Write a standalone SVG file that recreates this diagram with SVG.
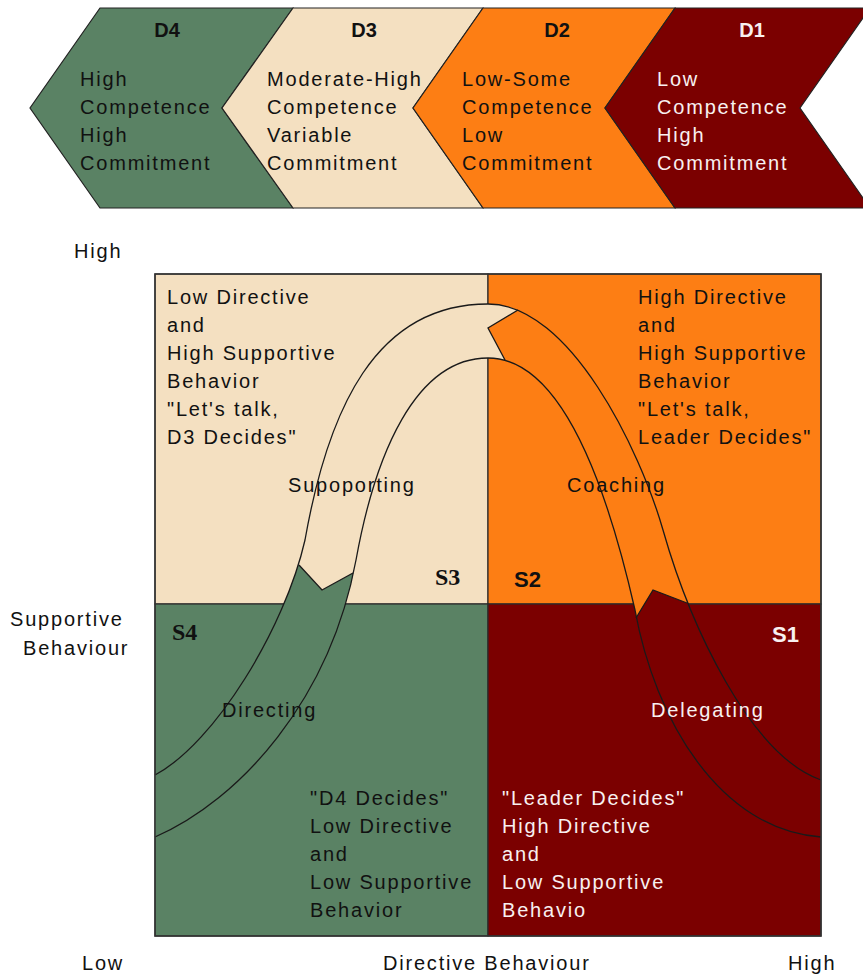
<svg xmlns="http://www.w3.org/2000/svg" width="863" height="975" viewBox="0 0 863 975">
<style>
.t{font-family:"Liberation Sans",Arial,sans-serif;font-size:20px;letter-spacing:1.8px;fill:#111}
.w{fill:#f8f0f0}
.hd{font-family:"Liberation Sans",Arial,sans-serif;font-weight:bold;font-size:20px;text-anchor:middle;fill:#111}
.sl{font-family:"Liberation Serif","Times New Roman",serif;font-weight:bold;font-size:24px;fill:#111}
.ss{font-family:"Liberation Sans",Arial,sans-serif;font-weight:bold;font-size:22px}
.ch{stroke:#222;stroke-width:1.2}
.q{stroke:#2a2a2a;stroke-width:1.2}
.ln{fill:none;stroke:#1a1a1a;stroke-width:1.3}
.green{fill:#5a8264}
.beige{fill:#f4e0c1}
.orange{fill:#fd7e14}
.maroon{fill:#7b0000}
</style>
<defs>
<path id="band" d="M155,775 C215,743 285,628 305,540 C328,410 375,304 488,304 C570,304 640,450 663,530 C690,625 750,755 821,780 L821,837 C720,830 655,720 635,610 C610,500 565,358 488,358 C415,358 375,455 356,560 C330,700 240,800 155,837 Z"/>
<clipPath id="cGreen"><polygon points="0,565 299,565 322,590 353,573 460,573 460,975 0,975"/></clipPath>
<clipPath id="cBeige"><polygon points="0,0 518,0 518,310 488,328 505,360 505,573 353,573 322,590 299,565 0,565"/></clipPath>
<clipPath id="cOrange"><polygon points="518,0 863,0 863,603 687,603 653,590 636,618 505,618 505,360 488,328 518,310"/></clipPath>
<clipPath id="cMaroon"><polygon points="653,590 687,603 863,603 863,975 600,975 600,618 636,618"/></clipPath>
</defs>
<rect width="863" height="975" fill="#ffffff"/>

<g id="d4">
<polygon class="ch green" points="100,8 293,8 222,108 293,208 100,208 30,108"/>
<text class="hd" x="167" y="37">D4</text>
<text class="t" x="80" y="86"><tspan x="80">High</tspan><tspan x="80" dy="28">Competence</tspan><tspan x="80" dy="28">High</tspan><tspan x="80" dy="28">Commitment</tspan></text>
</g>
<g id="d3">
<polygon class="ch beige" points="293,8 483,8 413,108 483,208 293,208 222,108"/>
<text class="hd" x="364" y="37">D3</text>
<text class="t" x="267" y="86"><tspan x="267">Moderate-High</tspan><tspan x="267" dy="28">Competence</tspan><tspan x="267" dy="28">Variable</tspan><tspan x="267" dy="28">Commitment</tspan></text>
</g>
<g id="d2">
<polygon class="ch orange" points="483,8 675,8 605,108 675,208 483,208 413,108"/>
<text class="hd" x="557" y="37">D2</text>
<text class="t" x="462" y="86"><tspan x="462">Low-Some</tspan><tspan x="462" dy="28">Competence</tspan><tspan x="462" dy="28">Low</tspan><tspan x="462" dy="28">Commitment</tspan></text>
</g>
<g id="d1">
<polygon class="ch maroon" points="675,8 870,8 800,108 870,208 675,208 605,108"/>
<text class="hd" x="752" y="37" style="fill:#f8f0f0">D1</text>
<text class="t w" x="657" y="86"><tspan x="657">Low</tspan><tspan x="657" dy="28">Competence</tspan><tspan x="657" dy="28">High</tspan><tspan x="657" dy="28">Commitment</tspan></text>
</g>

<g id="s3">
<rect class="q beige" x="155" y="274" width="333" height="330"/>
</g>
<g id="s2">
<rect class="q orange" x="488" y="274" width="333" height="330"/>
</g>
<g id="s4">
<rect class="q green" x="155" y="604" width="333" height="332"/>
</g>
<g id="s1">
<rect class="q maroon" x="488" y="604" width="333" height="332"/>
</g>

<g id="connectors">
<use href="#band" class="green" clip-path="url(#cGreen)"/>
<use href="#band" class="beige" clip-path="url(#cBeige)"/>
<use href="#band" class="orange" clip-path="url(#cOrange)"/>
<use href="#band" class="maroon" clip-path="url(#cMaroon)"/>
<path class="ln" d="M155,775 C215,743 285,628 305,540 C328,410 375,304 488,304 C570,304 640,450 663,530 C690,625 750,755 821,780"/>
<path class="ln" d="M155,837 C240,800 330,700 356,560 C375,455 415,358 488,358 C565,358 610,500 635,610 C655,720 720,830 821,837"/>
<path class="ln" d="M299,565 L322,590 L353,573"/>
<path class="ln" d="M518,310 L488,328 L505,360"/>
<path class="ln" d="M687,603 L653,590 L636,618"/>
</g>
<rect x="155" y="274" width="666" height="662" fill="none" stroke="#333" stroke-width="1.5"/>

<g id="s3-text">
<text class="t" x="167" y="304"><tspan x="167">Low Directive</tspan><tspan x="167" dy="28">and</tspan><tspan x="167" dy="28">High Supportive</tspan><tspan x="167" dy="28">Behavior</tspan><tspan x="167" dy="28">"Let's talk,</tspan><tspan x="167" dy="28">D3 Decides"</tspan></text>
<text class="t" x="288" y="492">Supoporting</text>
<text class="sl" x="435" y="585">S3</text>
</g>
<g id="s2-text">
<text class="t" x="638" y="304"><tspan x="638">High Directive</tspan><tspan x="638" dy="28">and</tspan><tspan x="638" dy="28">High Supportive</tspan><tspan x="638" dy="28">Behavior</tspan><tspan x="638" dy="28">"Let's talk,</tspan><tspan x="638" dy="28">Leader Decides"</tspan></text>
<text class="t" x="567" y="492">Coaching</text>
<text class="ss" x="514" y="587" fill="#111">S2</text>
</g>
<g id="s4-text">
<text class="sl" x="172" y="640">S4</text>
<text class="t" x="222" y="717">Directing</text>
<text class="t" x="310" y="805"><tspan x="310">"D4 Decides"</tspan><tspan x="310" dy="28">Low Directive</tspan><tspan x="310" dy="28">and</tspan><tspan x="310" dy="28">Low Supportive</tspan><tspan x="310" dy="28">Behavior</tspan></text>
</g>
<g id="s1-text">
<text class="ss" x="772" y="642" fill="#f8f0f0">S1</text>
<text class="t w" x="651" y="717">Delegating</text>
<text class="t w" x="502" y="805"><tspan x="502">"Leader Decides"</tspan><tspan x="502" dy="28">High Directive</tspan><tspan x="502" dy="28">and</tspan><tspan x="502" dy="28">Low Supportive</tspan><tspan x="502" dy="28">Behavio</tspan></text>
</g>

<g id="axes">
<text class="t" x="74" y="258">High</text>
<text class="t" x="10" y="626">Supportive</text>
<text class="t" x="23" y="655">Behaviour</text>
<text class="t" x="82" y="970">Low</text>
<text class="t" x="383" y="970">Directive Behaviour</text>
<text class="t" x="788" y="970">High</text>
</g>
</svg>
